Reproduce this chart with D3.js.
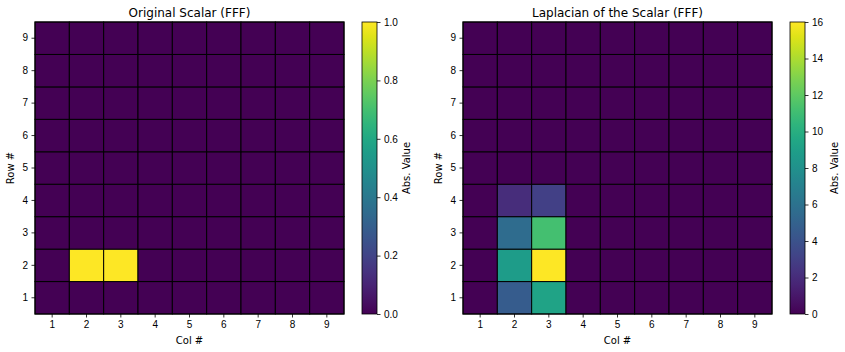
<!DOCTYPE html>
<html>
<head>
<meta charset="utf-8">
<script src="https://cdn.jsdelivr.net/npm/d3@7"></script>
<style>
  body { margin: 0; background: #fff; }
  svg { font-family: "DejaVu Sans", sans-serif; }
</style>
</head>
<body>
<svg id="chart" width="845" height="352"></svg>
<script>
// grid labels (rows bottom to top, cols left to right)
const rows = [1, 2, 3, 4, 5, 6, 7, 8, 9];
const cols = [1, 2, 3, 4, 5, 6, 7, 8, 9];

// original scalar: values per row (row 1 first), columns 1..9
const original = [
  [0, 0, 0, 0, 0, 0, 0, 0, 0],
  [0, 1, 1, 0, 0, 0, 0, 0, 0],
  [0, 0, 0, 0, 0, 0, 0, 0, 0],
  [0, 0, 0, 0, 0, 0, 0, 0, 0],
  [0, 0, 0, 0, 0, 0, 0, 0, 0],
  [0, 0, 0, 0, 0, 0, 0, 0, 0],
  [0, 0, 0, 0, 0, 0, 0, 0, 0],
  [0, 0, 0, 0, 0, 0, 0, 0, 0],
  [0, 0, 0, 0, 0, 0, 0, 0, 0]
];

const laplacian = [
  [0, 4.6, 9.3, 0, 0, 0, 0, 0, 0],
  [0, 8.8, 16, 0, 0, 0, 0, 0, 0],
  [0, 5.6, 11.2, 0, 0, 0, 0, 0, 0],
  [0, 2, 3, 0, 0, 0, 0, 0, 0],
  [0, 0, 0, 0, 0, 0, 0, 0, 0],
  [0, 0, 0, 0, 0, 0, 0, 0, 0],
  [0, 0, 0, 0, 0, 0, 0, 0, 0],
  [0, 0, 0, 0, 0, 0, 0, 0, 0],
  [0, 0, 0, 0, 0, 0, 0, 0, 0]
];

const origTicks = [0, 0.2, 0.4, 0.6, 0.8, 1.0];
const lapTicks = [0, 2, 4, 6, 8, 10, 12, 14, 16];

const svg = d3.select("#chart");

const plotTop = 22, plotBottom = 314;

function drawPanel(opts) {
  const { left, right, cbLeft, data, vmax, ticks, tickFmt, title, id } = opts;

  const x = d3.scaleBand().domain(cols).range([left, right]).padding(0);
  const y = d3.scaleBand().domain(rows).range([plotBottom, plotTop]).padding(0);
  const color = d3.scaleSequential(d3.interpolateViridis).domain([0, vmax]);

  const g = svg.append("g");

  // cells
  const cells = [];
  data.forEach((r, i) => r.forEach((v, j) => cells.push({ row: rows[i], col: cols[j], v })));
  g.selectAll("rect.cell")
    .data(cells)
    .enter().append("rect")
    .attr("class", "cell")
    .attr("x", d => x(d.col))
    .attr("y", d => y(d.row))
    .attr("width", x.bandwidth())
    .attr("height", y.bandwidth())
    .attr("fill", d => color(d.v))
    .attr("stroke", "#000")
    .attr("stroke-width", 1);

  // frame
  g.append("rect")
    .attr("x", left).attr("y", plotTop)
    .attr("width", right - left).attr("height", plotBottom - plotTop)
    .attr("fill", "none").attr("stroke", "#000").attr("stroke-width", 1);

  // axes
  const xAxis = g.append("g")
    .attr("transform", `translate(0,${plotBottom})`)
    .call(d3.axisBottom(x).tickSize(3.5).tickPadding(3.5));
  const yAxis = g.append("g")
    .attr("transform", `translate(${left},0)`)
    .call(d3.axisLeft(y).tickSize(3.5).tickPadding(3.5));
  [xAxis, yAxis].forEach(a => {
    a.select(".domain").remove();
    a.selectAll("text").style("font-size", "10px").attr("fill", "#000");
    a.selectAll("line").attr("stroke", "#000").attr("stroke-width", 0.8);
  });

  // title and labels
  g.append("text")
    .attr("x", (left + right) / 2).attr("y", 17)
    .attr("text-anchor", "middle")
    .style("font-size", "12px")
    .text(title);

  g.append("text")
    .attr("x", (left + right) / 2).attr("y", 344)
    .attr("text-anchor", "middle")
    .style("font-size", "10px")
    .text("Col #");

  g.append("text")
    .attr("transform", `translate(${left - 21},${(plotTop + plotBottom) / 2}) rotate(-90)`)
    .attr("text-anchor", "middle")
    .style("font-size", "10px")
    .text("Row #");

  // colorbar
  const cbW = 15;
  const defs = svg.append("defs");
  const grad = defs.append("linearGradient")
    .attr("id", id)
    .attr("x1", "0%").attr("y1", "100%")
    .attr("x2", "0%").attr("y2", "0%");
  d3.range(0, 1.0001, 0.05).forEach(t => {
    grad.append("stop")
      .attr("offset", `${t * 100}%`)
      .attr("stop-color", d3.interpolateViridis(t));
  });

  const cy = d3.scaleLinear().domain([0, vmax]).range([plotBottom, plotTop]);

  g.append("rect")
    .attr("x", cbLeft).attr("y", plotTop)
    .attr("width", cbW).attr("height", plotBottom - plotTop)
    .attr("fill", `url(#${id})`)
    .attr("stroke", "#000").attr("stroke-width", 0.8);

  const cbAxis = g.append("g")
    .attr("transform", `translate(${cbLeft + cbW},0)`)
    .call(d3.axisRight(cy).tickValues(ticks).tickFormat(tickFmt).tickSize(3.5).tickPadding(3.5));
  cbAxis.select(".domain").remove();
  cbAxis.selectAll("text").style("font-size", "10px").attr("fill", "#000");
  cbAxis.selectAll("line").attr("stroke", "#000").attr("stroke-width", 0.8);

  g.append("text")
    .attr("transform", `translate(${cbLeft + cbW + 33},${(plotTop + plotBottom) / 2}) rotate(-90)`)
    .attr("text-anchor", "middle")
    .style("font-size", "10px")
    .text("Abs. Value");
}

drawPanel({
  left: 35, right: 344, cbLeft: 362,
  data: original, vmax: 1, ticks: origTicks, tickFmt: d3.format(".1f"),
  title: "Original Scalar (FFF)", id: "gradA"
});

drawPanel({
  left: 463, right: 772, cbLeft: 790,
  data: laplacian, vmax: 16, ticks: lapTicks, tickFmt: d3.format("d"),
  title: "Laplacian of the Scalar (FFF)", id: "gradB"
});
</script>
</body>
</html>
